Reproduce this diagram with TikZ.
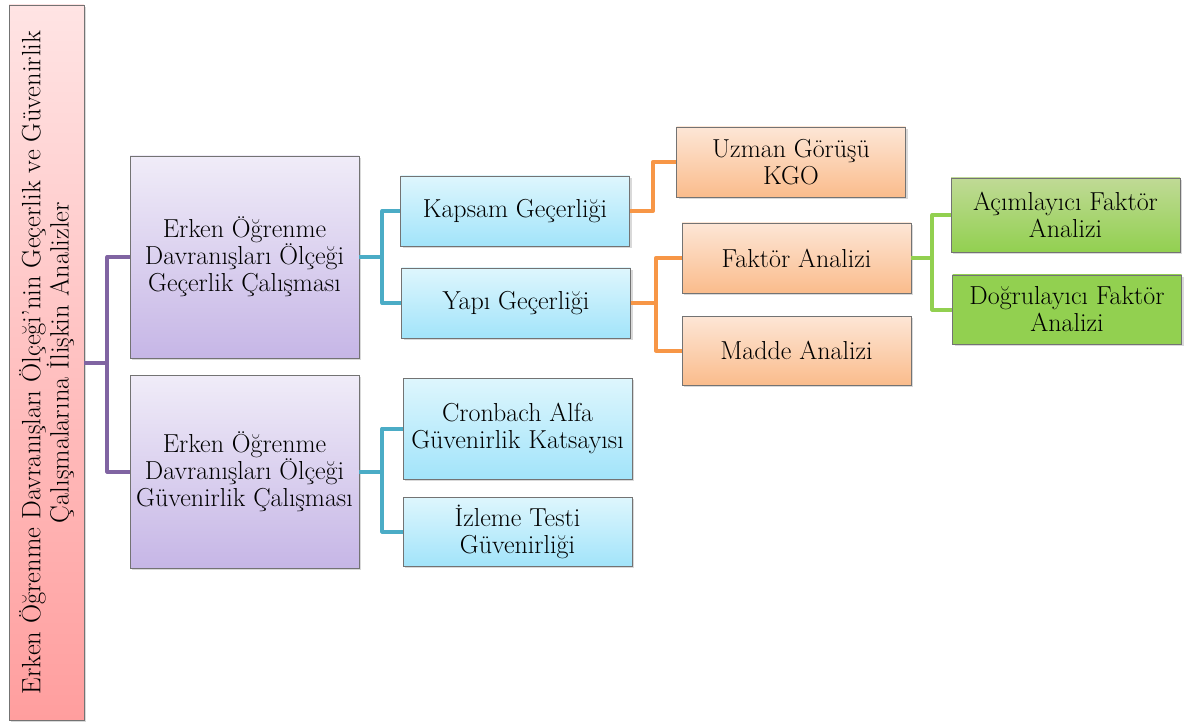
\documentclass[tikz,border=0pt]{standalone}
\usepackage{fontspec}
\usepackage{tikz}
\usetikzlibrary{shadows,calc}

\definecolor{roottop}{RGB}{255,228,228}
\definecolor{rootbot}{RGB}{255,158,158}
\definecolor{purptop}{RGB}{240,236,248}
\definecolor{purpbot}{RGB}{198,182,230}
\definecolor{bluetop}{RGB}{222,246,253}
\definecolor{bluebot}{RGB}{162,228,250}
\definecolor{orgtop}{RGB}{253,230,214}
\definecolor{orgbot}{RGB}{250,188,140}
\definecolor{grntop}{RGB}{192,218,150}
\definecolor{grnbot}{RGB}{146,208,80}
\definecolor{purpline}{RGB}{128,100,162}
\definecolor{blueline}{RGB}{75,172,198}
\definecolor{orgline}{RGB}{247,150,70}
\definecolor{grnline}{RGB}{146,208,80}

\tikzset{
  box/.style={draw=black!55, line width=0.8pt, align=center, inner sep=2pt,
    font=\fontsize{26}{27}\selectfont,
    drop shadow={shadow xshift=2pt, shadow yshift=-2pt, opacity=0.3}},
  rootbox/.style={box, top color=roottop, bottom color=rootbot},
  purpbox/.style={box, top color=purptop, bottom color=purpbot, minimum width=229pt},
  bluebox/.style={box, top color=bluetop, bottom color=bluebot, minimum width=229pt},
  orgbox/.style={box, top color=orgtop, bottom color=orgbot, minimum width=229pt, minimum height=70pt},
  grnbox/.style={box, top color=grntop, bottom color=grnbot, minimum width=229pt},
  link/.style={line width=4pt, line join=round},
}

\begin{document}
\begin{tikzpicture}[x=1pt,y=-1pt]
\useasboundingbox (0,0) rectangle (1184,722);

% Root (rotated text)
\node[rootbox, minimum width=75pt, minimum height=715pt] (root) at (46.5,362.5)
  {\rotatebox{90}{\parbox{700pt}{\centering\fontsize{26.5}{26}\selectfont
   Erken Öğrenme Davranışları Ölçeği'nin Geçerlik ve Güvenirlik\\
   Çalışmalarına İlişkin Analizler}}};

% Second level
\node[purpbox, minimum height=202pt] (gec) at (244.5,257) {Erken Öğrenme\\Davranışları Ölçeği\\Geçerlik Çalışması};
\node[purpbox, minimum height=193pt] (guv) at (244.5,471.5) {Erken Öğrenme\\Davranışları Ölçeği\\Güvenirlik Çalışması};

% Third level
\node[bluebox, minimum height=70pt] (kapsam) at (515,211) {Kapsam Geçerliği};
\node[bluebox, minimum height=70pt] (yapi) at (516,303) {Yapı Geçerliği};
\node[bluebox, minimum height=101pt] (cronbach) at (517.5,428.5) {Cronbach Alfa\\Güvenirlik Katsayısı};
\node[bluebox, minimum height=69pt] (izleme) at (517.5,531.5) {İzleme Testi\\Güvenirliği};

% Fourth level
\node[orgbox] (uzman) at (791,162) {Uzman Görüşü\\KGO};
\node[orgbox] (faktor) at (796.5,258) {Faktör Analizi};
\node[orgbox, minimum height=69pt] (madde) at (796.5,350.5) {Madde Analizi};

% Fifth level
\node[grnbox, minimum height=74pt] (acim) at (1065.5,215) {Açımlayıcı Faktör\\Analizi};
\node[grnbox, minimum height=69pt, top color=grnbot] (dogru) at (1067,309.5) {Doğrulayıcı Faktör\\Analizi};

% Connectors
\draw[link, purpline] (root.east) -- ++(23,0) |- (gec.west);
\draw[link, purpline] (root.east) -- ++(23,0) |- (guv.west);
\draw[link, blueline] (gec.east) -- ++(23,0) |- (kapsam.west);
\draw[link, blueline] (gec.east) -- ++(23,0) |- (yapi.west);
\draw[link, blueline] (guv.east) -- ++(23,0) |- (cronbach.west);
\draw[link, blueline] (guv.east) -- ++(23,0) |- (izleme.west);
\draw[link, orgline] (kapsam.east) -- ++(23,0) |- (uzman.west);
\draw[link, orgline] (yapi.east) -- ++(25,0) |- (faktor.west);
\draw[link, orgline] (yapi.east) -- ++(25,0) |- (madde.west);
\draw[link, grnline] (faktor.east) -- ++(21,0) |- (acim.west);
\draw[link, grnline] (faktor.east) -- ++(21,0) |- (dogru.west);
\end{tikzpicture}
\end{document}
